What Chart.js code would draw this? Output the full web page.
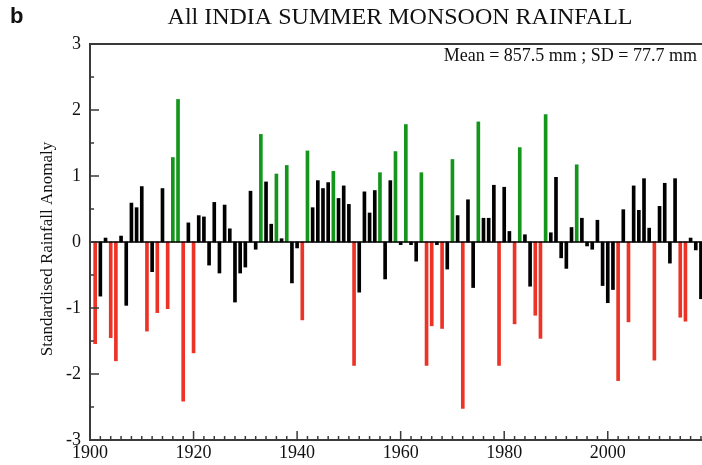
<!DOCTYPE html>
<html>
<head>
<meta charset="utf-8">
<script src="https://cdn.jsdelivr.net/npm/chart.js@4"></script>
<style>
  html, body { margin: 0; padding: 0; background: #fff; }
  #wrap { width: 702px; height: 465px; }
</style>
</head>
<body>
<div id="wrap"><canvas id="myChart" width="702" height="465"></canvas></div>
<script>
let years = [];
for (let y = 1901; y <= 2018; y++) years.push(y);

// standardised anomaly per year, 1901-2018
let anomaly = [
  -1.54, -0.82, 0.06, -1.45, -1.80, 0.09, -0.96, 0.59, 0.52, 0.84,   // 1901-1910
  -1.35, -0.45, -1.07, 0.81, -1.01, 1.28, 2.16, -2.41, 0.29, -1.68,  // 1911-1920
  0.40, 0.38, -0.35, 0.60, -0.47, 0.56, 0.20, -0.91, -0.47, -0.38,   // 1921-1930
  0.77, -0.11, 1.63, 0.91, 0.27, 1.03, 0.05, 1.16, -0.62, -0.09,     // 1931-1940
  -1.18, 1.38, 0.52, 0.93, 0.81, 0.90, 1.07, 0.66, 0.85, 0.57,       // 1941-1950
  -1.87, -0.76, 0.76, 0.44, 0.78, 1.05, -0.56, 0.93, 1.37, -0.04,    // 1951-1960
  1.78, -0.04, -0.29, 1.05, -1.87, -1.27, -0.04, -1.31, -0.41, 1.25, // 1961-1970
  0.40, -2.52, 0.64, -0.69, 1.82, 0.36, 0.36, 0.86, -1.87, 0.83,     // 1971-1980
  0.16, -1.24, 1.43, 0.11, -0.67, -1.11, -1.46, 1.93, 0.14, 0.98,    // 1981-1990
  -0.24, -0.40, 0.22, 1.17, 0.36, -0.06, -0.11, 0.33, -0.66, -0.92,  // 1991-2000
  -0.72, -2.10, 0.49, -1.21, 0.85, 0.48, 0.96, 0.21, -1.79, 0.54,    // 2001-2010
  0.89, -0.32, 0.96, -1.14, -1.20, 0.06, -0.12, -0.86                // 2011-2018
];

let xTicks = [1900, 1920, 1940, 1960, 1980, 2000];
let yTicks = [-3, -2, -1, 0, 1, 2, 3];

const serif = "'Liberation Serif', 'Times New Roman', serif";

let barColors = anomaly.map(v => v > 1 ? '#14951c' : (v < -1 ? '#ec3326' : '#000000'));

// frame, zero line, inward ticks and the text bits
const frame = {
  id: 'frame',
  afterDraw(chart) {
    const c = chart.ctx;
    const a = chart.chartArea;
    const xs = chart.scales.x, ys = chart.scales.y;
    c.save();
    c.strokeStyle = '#000';
    c.lineWidth = 1.5;
    let y0 = ys.getPixelForValue(0);
    c.beginPath(); c.moveTo(a.left, y0); c.lineTo(a.right, y0); c.stroke();

    c.strokeStyle = '#3a3a3a';
    c.lineWidth = 2;
    c.beginPath();
    c.moveTo(a.right, a.top); c.lineTo(a.left, a.top);
    c.lineTo(a.left, a.bottom); c.lineTo(a.right, a.bottom);
    c.stroke();

    c.lineWidth = 1.5;
    c.beginPath();
    for (let yr = 1900; yr <= 2018; yr += 2) {
      let px = xs.getPixelForValue(yr);
      let len = yr % 20 === 0 ? 9 : 4;
      c.moveTo(px, a.bottom); c.lineTo(px, a.bottom - len);
    }
    for (let v = -3; v <= 3; v += 0.5) {
      let py = ys.getPixelForValue(v);
      let len = Number.isInteger(v) ? 9 : 4;
      c.moveTo(a.left, py); c.lineTo(a.left + len, py);
    }
    c.stroke();

    c.fillStyle = '#111';
    c.textBaseline = 'middle';
    c.font = "24px " + serif;
    c.textAlign = 'center';
    c.fillText('All INDIA SUMMER MONSOON RAINFALL', 400, 18);
    c.font = "bold 22px 'Liberation Sans', Arial, sans-serif";
    c.textAlign = 'left';
    c.fillText('b', 10, 17);
    c.font = "18px " + serif;
    c.textAlign = 'right';
    c.fillText('Mean = 857.5 mm ; SD = 77.7 mm', 697, 56);

    // y axis title
    c.translate(48, 249);
    c.rotate(-Math.PI / 2);
    c.textAlign = 'center';
    c.font = "17px " + serif;
    c.fillText('Standardised Rainfall Anomaly', 0, 0);
    c.restore();
  }
};

let ctx = document.getElementById('myChart').getContext('2d');
let myChart = new Chart(ctx, {
  type: 'bar',
  data: {
    datasets: [{
      label: 'Standardised anomaly',
      data: years.map((yr, i) => ({ x: yr, y: anomaly[i] })),
      backgroundColor: barColors,
      borderWidth: 0,
      barThickness: 3
    }]
  },
  options: {
    responsive: false,
    animation: false,
    layout: { padding: { top: 44, left: 0, right: 0, bottom: 0 } },
    plugins: {
      legend: { display: false },
      tooltip: { enabled: false }
    },
    scales: {
      x: {
        type: 'linear',
        offset: false,
        min: 1900,
        max: 2018.2,
        grid: { display: false, drawTicks: false, offset: false },
        border: { display: false },
        afterBuildTicks: s => { s.ticks = xTicks.map(v => ({ value: v })); },
        afterFit: s => { s.height = 25; },
        ticks: {
          padding: 2,
          maxRotation: 0,
          autoSkip: false,
          color: '#111',
          font: { family: serif, size: 18 },
          callback: v => String(v)
        }
      },
      y: {
        min: -3,
        max: 3,
        grid: { display: false, drawTicks: false },
        border: { display: false },
        afterBuildTicks: s => { s.ticks = yTicks.map(v => ({ value: v })); },
        afterFit: s => { s.width = 90; },
        ticks: {
          padding: 9,
          color: '#111',
          font: { family: serif, size: 18 }
        }
      }
    }
  },
  plugins: [frame]
});
</script>
</body>
</html>
